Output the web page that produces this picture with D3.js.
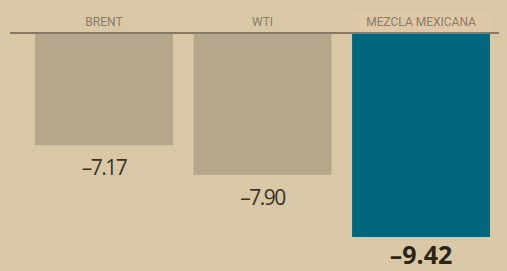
<!DOCTYPE html>
<html>
<head>
<meta charset="utf-8">
<script src="https://cdn.jsdelivr.net/npm/d3@7"></script>
<style>
  body{margin:0;background:#d9c8a6;}
  svg{display:block;}
</style>
</head>
<body>
<div id="chart"></div>
<script>
// categorias y valores (variacion, %)
const categories=["BRENT","WTI","MEZCLA MEXICANA"]
const values=[-7.17,-7.90,-9.42]
const valueLabels=["-7.17","-7.90","-9.42"]

const W=507,H=271
let svg=d3.select('#chart').append('svg').attr('width',W).attr('height',H)
svg.append('rect').attr('width',W).attr('height',H).attr('fill','#d9c8a6')

let x=d3.scaleBand().domain(categories).range([35,490]).paddingInner(0.13).paddingOuter(0)
let y=d3.scaleLinear().domain([-4.45,-9.42]).range([34,237])

// soft highlight behind the mexican label
svg.append('rect')
	.attr('x',x("MEZCLA MEXICANA")).attr('y',12)
	.attr('width',x.bandwidth()).attr('height',20)
	.attr('fill','#dfc8a8')

svg.selectAll('rect.bar').data(categories).join('rect')
	.attr('class','bar')
	.attr('x',d=>x(d))
	.attr('y',y(-4.45))
	.attr('width',x.bandwidth())
	.attr('height',(d,i)=>y(values[i])-y(-4.45))
	.attr('fill',(d,i)=>i===2?'#00677f':'#b4a78b')

svg.append('line')
	.attr('x1',10).attr('x2',499).attr('y1',33).attr('y2',33)
	.attr('stroke','#857a66').attr('stroke-width',2)

svg.selectAll('text.cat').data(categories).join('text')
	.attr('class','cat')
	.attr('x',d=>x(d)+x.bandwidth()/2)
	.attr('y',26)
	.attr('text-anchor','middle')
	.attr('font-family','Liberation Sans Narrow, Roboto, sans-serif')
	.attr('font-size',12)
	.attr('fill','#887d6b')
	.text(d=>d)

svg.selectAll('text.val').data(categories).join('text')
	.attr('class','val')
	.attr('x',d=>x(d)+x.bandwidth()/2)
	.attr('y',(d,i)=>y(values[i])+(i===2?27:30))
	.attr('text-anchor','middle')
	.attr('font-family','Open Sans, sans-serif')
	.attr('font-size',(d,i)=>i===2?25:21)
	.attr('font-weight',(d,i)=>i===2?'bold':'normal')
	.attr('letter-spacing',(d,i)=>i===2?0:-1.5)
	.attr('fill',(d,i)=>i===2?'#2a2418':'#3a3226')
	.text((d,i)=>valueLabels[i].replace('-','\u2013'))
</script>
</body>
</html>
